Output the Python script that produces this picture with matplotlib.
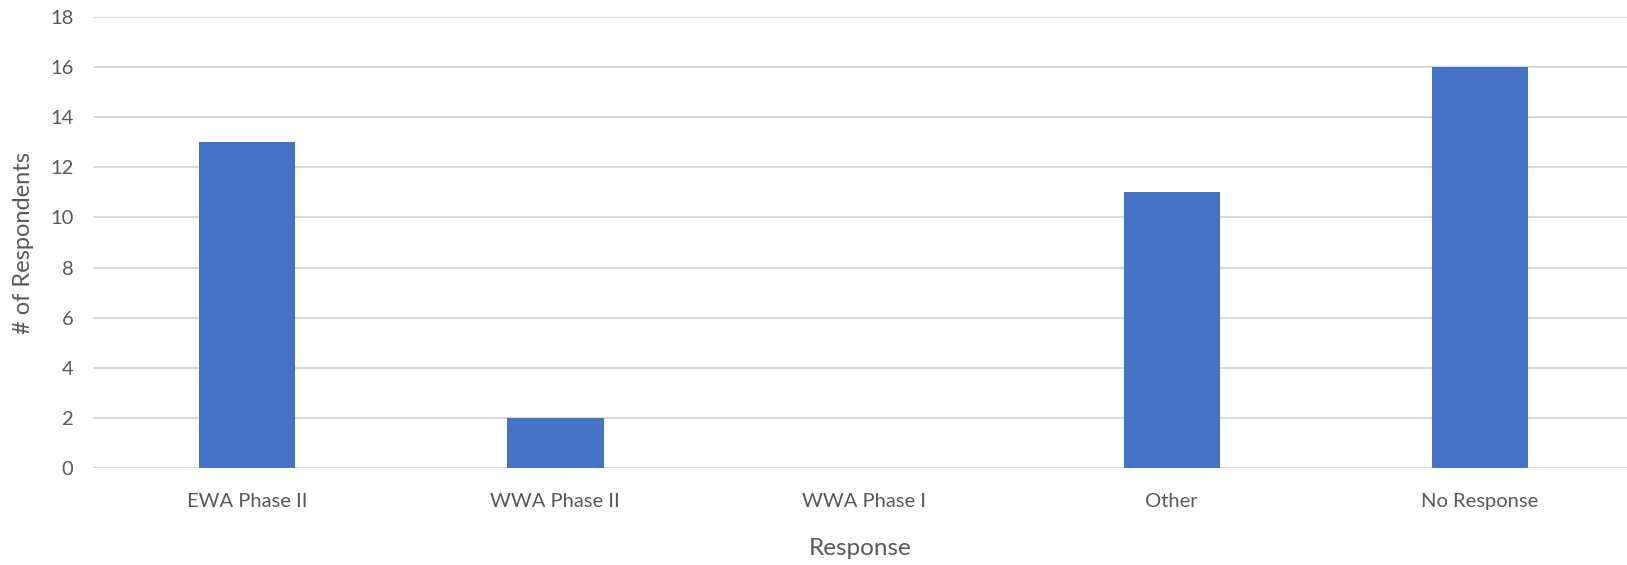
import matplotlib.pyplot as plt

# survey answers
categories = ["EWA Phase II", "WWA Phase II", "WWA Phase I", "Other", "No Response"]
respondents = [13, 2, 0, 11, 16]
y_ticks = [0, 2, 4, 6, 8, 10, 12, 14, 16, 18]

plt.rcParams['font.family'] = ['Lato', 'DejaVu Sans']

fig = plt.figure(figsize=(16.27, 5.65), dpi=100)
ax = fig.add_axes([93 / 1627, 97 / 565, 1534 / 1627, 451 / 565])

ax.bar(range(len(categories)), respondents, width=0.313, color="#4472C4", zorder=3)

ax.set_xlim(-0.5, 4.477)
ax.set_ylim(0, 18)
ax.set_yticks(y_ticks)
ax.set_xticks(range(len(categories)))
ax.set_xticklabels(categories)

ax.grid(axis="y", color="#d9d9d9", linewidth=1.5, zorder=0)
for s in ax.spines.values():
    s.set_visible(False)
ax.tick_params(length=0, labelsize=14.5, colors="#595959")
ax.tick_params(axis="y", pad=14)
ax.tick_params(axis="x", pad=18)

ax.set_xlabel("Response", fontsize=17.5, color="#595959", labelpad=20)
ax.set_ylabel("# of Respondents", fontsize=17, color="#595959", labelpad=12)

fig.savefig("out.png", dpi=100)
